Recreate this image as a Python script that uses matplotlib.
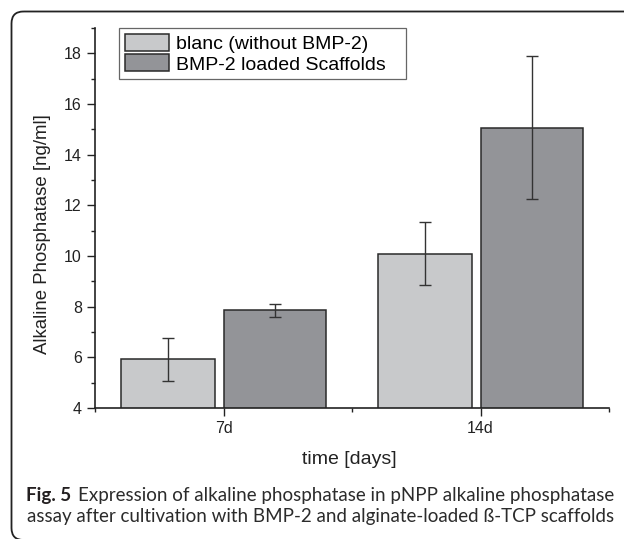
import numpy as np
import matplotlib
matplotlib.use('Agg')
import matplotlib.pyplot as plt
from matplotlib.patches import FancyBboxPatch

# data
days = ['7d', '14d']
blanc = [5.92, 10.09]
blanc_err = [0.86, 1.25]
bmp = [7.85, 15.06]
bmp_err = [0.27, 2.82]
series_labels = ['blanc (without BMP-2)', 'BMP-2 loaded Scaffolds']

light = '#c8c9cb'
dark = '#939498'
edge = '#2a2a2a'

plt.rcParams['font.family'] = ['Liberation Sans', 'DejaVu Sans']


def grafico():
    fig = plt.figure(figsize=(6.24, 5.39), dpi=100)

    # rounded frame around the figure (pixel coordinates)
    bg = fig.add_axes([0, 0, 1, 1], zorder=-1)
    bg.set_xlim(0, 624)
    bg.set_ylim(539, 0)
    bg.axis('off')
    bg.add_patch(FancyBboxPatch((11.5, 11.5), 660, 528.5, boxstyle='round,pad=0,rounding_size=12',
                                fill=False, ec='#222222', lw=1.3))

    ax = fig.add_axes([95 / 624, 1 - 408 / 539, (609 - 95) / 624, (408 - 28) / 539])
    x = np.arange(len(days))
    w1, w2 = 0.365, 0.40
    b1 = ax.bar(x - 0.40, blanc, width=w1, align='edge', color=light, edgecolor=edge, linewidth=1.1,
                label=series_labels[0])
    b2 = ax.bar(x, bmp, width=w2, align='edge', color=dark, edgecolor=edge, linewidth=1.1,
                label=series_labels[1])
    ax.errorbar(x - 0.40 + w1 / 2, blanc, yerr=blanc_err, fmt='none', ecolor='#333333',
                elinewidth=1, capsize=4, capthick=1)
    ax.errorbar(x + w2 / 2, bmp, yerr=bmp_err, fmt='none', ecolor='#333333',
                elinewidth=1, capsize=4, capthick=1)

    ax.set_xlim(-0.5, 1.5)
    ax.set_ylim(4, 19)
    ax.set_xticks(x)
    ax.set_xticklabels(days)
    ax.set_xticks([-0.5, 0.5, 1.5], minor=True)
    ax.set_yticks(np.arange(4, 19, 2))
    ax.set_yticks(np.arange(5, 20, 2), minor=True)
    ax.tick_params(which='major', direction='out', length=5.5, width=1, labelsize=11.5, pad=4,
                   color='#222222', labelcolor='#222222')
    ax.tick_params(which='minor', direction='out', length=3, width=1, color='#222222')
    for s in ['top', 'right']:
        ax.spines[s].set_visible(False)
    for s in ['left', 'bottom']:
        ax.spines[s].set_linewidth(1.2)
        ax.spines[s].set_color('#222222')

    ax.set_ylabel('Alkaline Phosphatase [ng/ml]', fontsize=13.4, color='#222222')
    ax.yaxis.set_label_coords(-0.0856, 0.459)
    ax.set_xlabel('time [days]', fontsize=14, color='#222222')
    ax.xaxis.set_label_coords(0.495, -0.113)

    leg = ax.legend(handles=[b1, b2], loc='upper left',
                    bbox_to_anchor=(24 / 514, 0, (406 - 119) / 514, 1.0), mode='expand',
                    borderaxespad=0, fontsize=14, handlelength=2.26, handleheight=0.95,
                    labelspacing=0.08, handletextpad=0.38, borderpad=0.3,
                    fancybox=False, framealpha=1)
    leg.get_frame().set_edgecolor('#666666')
    leg.get_frame().set_linewidth(0.9)

    # caption
    r = fig.canvas.get_renderer()
    t1 = fig.text(26 / 624, 1 - 500.7 / 539, 'Fig. 5', family='Lato', weight='bold',
                  fontsize=13.5, va='baseline', color='#231f20')
    bb = t1.get_window_extent(r)
    fig.text(bb.x1 / 624 + 7 / 624, 1 - 500.7 / 539,
             'Expression of alkaline phosphatase in pNPP alkaline phosphatase',
             family='Lato', fontsize=13.5, va='baseline', color='#2b2b2b')
    fig.text(27 / 624, 1 - 521.7 / 539,
             'assay after cultivation with BMP-2 and alginate-loaded ß-TCP scaffolds',
             family='Lato', fontsize=13.5, va='baseline', color='#2b2b2b')

    fig.savefig('out.png', dpi=100)


if __name__ == "__main__":
    grafico()
